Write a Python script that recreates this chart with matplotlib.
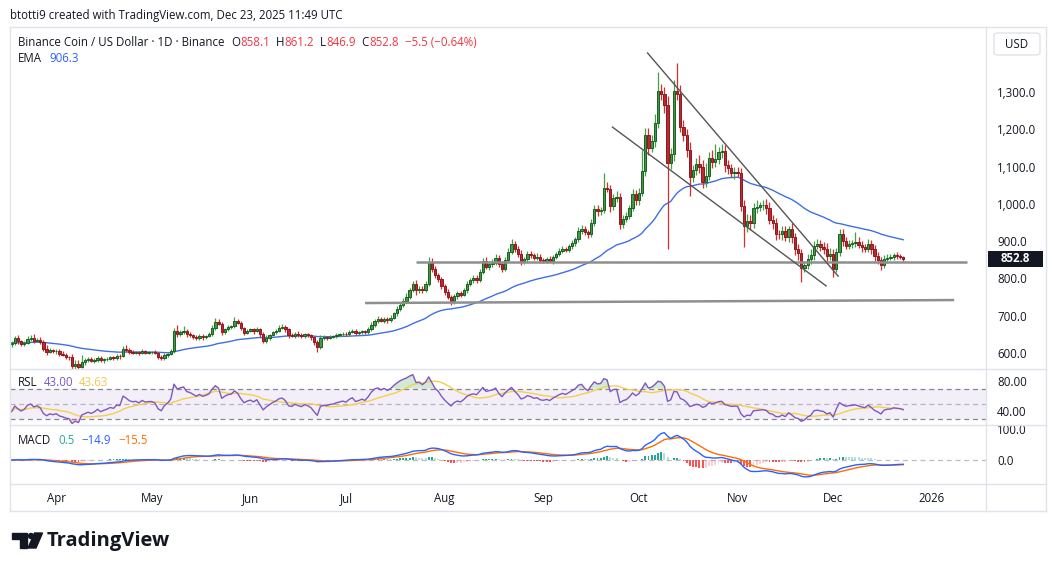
import numpy as np
import pandas as pd
import matplotlib
matplotlib.use("Agg")
import matplotlib.pyplot as plt
import matplotlib.dates as mdates
from matplotlib.patches import Polygon, Ellipse, Rectangle, FancyBboxPatch
from matplotlib.lines import Line2D

# BNB / USD daily closes, 18 Mar 2025 -> 23 Dec 2025
close_mar = [627, 640, 631, 624, 628, 638, 641, 633, 636, 630, 612, 603, 607, 604]
close_apr = [606, 598, 595, 590, 588, 566, 570, 563, 577, 580, 583, 579, 582, 587, 580,
             583, 585, 588, 586, 592, 591, 612, 608, 603, 601, 602, 599, 604, 601, 602]
close_may = [602, 600, 590, 586, 594, 598, 606, 660, 650, 655, 660, 650, 648, 644, 640, 646,
             642, 645, 650, 668, 684, 679, 655, 664, 670, 672, 686, 680, 666, 654, 660]
close_jun = [663, 658, 665, 650, 632, 641, 648, 655, 660, 668, 670, 663, 648, 646, 652,
             648, 645, 650, 647, 642, 630, 617, 639, 642, 641, 644, 645, 648, 650, 652]
close_jul = [650, 656, 660, 653, 655, 658, 656, 664, 676, 686, 690, 687, 692, 689, 695, 706,
             718, 730, 740, 750, 768, 785, 770, 773, 768, 786, 842, 826, 808, 798, 780]
close_aug = [764, 750, 736, 752, 760, 756, 768, 785, 795, 800, 797, 818, 846, 832, 838, 842,
             856, 838, 826, 850, 872, 893, 878, 865, 845, 852, 866, 862, 855, 858, 850]
close_sep = [848, 852, 848, 858, 866, 874, 880, 877, 886, 895, 905, 928, 934, 924, 918,
             950, 986, 980, 984, 1044, 1040, 995, 1015, 1018, 946, 960, 968, 990, 1026, 1010]
close_oct = [1030, 1088, 1185, 1150, 1168, 1218, 1302, 1296, 1265, 1110, 1135, 1303, 1296, 1207, 1186,
             1145, 1073, 1090, 1108, 1100, 1060, 1075, 1124, 1112, 1120, 1138, 1142, 1104, 1095, 1083, 1086]
close_nov = [1084, 995, 940, 955, 948, 990, 992, 996, 998, 990, 958, 948, 920, 918, 928,
             910, 932, 910, 878, 868, 828, 836, 852, 862, 888, 892, 885, 880, 860, 866]
close_dec = [826, 872, 918, 900, 888, 893, 895, 898, 890, 884, 880, 893, 878, 860, 850,
             835, 852, 856, 857, 862, 860, 858.1, 852.8]
first_open = 625.0

# wick lengths above the body top / below the body bottom
hi_mar = [6, 5, 8, 4, 5, 7, 6, 9, 5, 6, 5, 9, 6, 5]
lo_mar = [9, 5, 6, 4, 5, 4, 5, 6, 4, 5, 6, 8, 4, 5]
hi_apr = [5, 4, 6, 4, 3, 8, 12, 10, 18, 6, 5, 7, 4, 6, 5, 4, 3, 5, 4, 6, 4, 7, 10, 5, 4, 3, 4, 6, 3, 4]
lo_apr = [6, 5, 4, 5, 6, 10, 14, 6, 4, 8, 5, 4, 6, 5, 4, 6, 4, 3, 5, 4, 6, 3, 5, 6, 4, 5, 4, 3, 5, 4]
hi_may = [4, 6, 3, 4, 5, 4, 5, 8, 14, 6, 12, 5, 6, 4, 5, 4, 6, 4, 5, 8, 10, 6, 5, 4, 5, 4, 10, 6, 5, 4, 5]
lo_may = [5, 4, 6, 5, 4, 5, 3, 6, 8, 5, 4, 6, 5, 6, 4, 5, 6, 4, 3, 5, 6, 4, 8, 5, 4, 6, 4, 3, 5, 6, 4]
hi_jun = [5, 4, 6, 3, 5, 8, 4, 5, 4, 6, 7, 5, 4, 5, 3, 6, 5, 4, 3, 5, 4, 6, 8, 5, 4, 3, 4, 5, 4, 3]
lo_jun = [4, 6, 3, 8, 6, 4, 5, 3, 4, 5, 4, 6, 8, 4, 5, 6, 4, 5, 4, 6, 8, 14, 6, 4, 5, 3, 4, 5, 3, 4]
hi_jul = [4, 5, 3, 4, 5, 4, 3, 5, 6, 5, 8, 6, 5, 4, 6, 5, 7, 6, 8, 10, 6, 8, 12, 7, 6, 8, 16, 14, 8, 6, 5]
lo_jul = [5, 4, 3, 5, 4, 3, 4, 5, 4, 6, 5, 4, 6, 8, 5, 4, 6, 5, 7, 6, 5, 4, 14, 10, 8, 5, 6, 8, 6, 7, 8]
hi_aug = [6, 8, 5, 6, 7, 5, 6, 8, 6, 10, 8, 7, 9, 12, 8, 10, 9, 7, 6, 8, 10, 12, 8, 9, 10, 6, 8, 7, 6, 9, 7]
lo_aug = [8, 6, 6, 5, 8, 6, 4, 6, 5, 7, 8, 6, 5, 8, 9, 7, 6, 8, 10, 7, 5, 6, 8, 7, 9, 6, 7, 8, 6, 5, 8]
hi_sep = [6, 5, 7, 6, 5, 8, 6, 5, 7, 8, 6, 9, 10, 8, 7, 9, 12, 10, 8, 38, 14, 10, 12, 16, 12, 9, 10, 8, 14, 12]
lo_sep = [7, 6, 5, 8, 6, 5, 7, 6, 5, 7, 8, 6, 9, 8, 10, 7, 8, 12, 10, 9, 8, 16, 12, 10, 14, 10, 8, 9, 10, 12]
hi_oct = [14, 56, 20, 18, 16, 22, 52, 20, 18, 24, 16, 30, 74, 22, 18, 16, 20, 14, 16, 22, 18, 36, 16, 20,
          42, 14, 18, 16, 14, 12, 14]
lo_oct = [12, 10, 14, 18, 12, 16, 14, 18, 22, 230, 16, 20, 18, 14, 16, 20, 51, 14, 12, 16, 18, 14, 12, 16,
          14, 12, 16, 18, 14, 12, 16]
hi_nov = [14, 12, 16, 18, 14, 12, 18, 10, 12, 14, 16, 12, 14, 10, 12, 14, 10, 16, 12, 14, 10, 12, 14, 16,
          12, 14, 10, 12, 14, 16]
lo_nov = [12, 14, 55, 16, 18, 12, 14, 10, 12, 16, 12, 14, 16, 12, 14, 10, 12, 14, 16, 18, 37, 12, 10, 14,
          12, 10, 12, 14, 12, 10]
hi_dec = [12, 10, 14, 16, 12, 10, 8, 27, 12, 10, 8, 14, 10, 12, 10, 8, 12, 10, 8, 6, 10, 6, 3.1]
lo_dec = [21, 10, 12, 14, 10, 8, 12, 10, 9, 12, 10, 8, 12, 14, 10, 13, 8, 10, 6, 8, 7, 6, 5.9]

# drawings on the chart: (start, end, price at start, price at end)
levels = [('2025-07-23', '2026-01-12', 845, 845),
          ('2025-07-07', '2026-01-08', 734, 742)]
channel = [('2025-10-03 17:00', '2025-12-02 14:00', 1405, 806),
           ('2025-09-22 17:00', '2025-11-28 19:00', 1206, 780)]

month_ticks = ['2025-04-01', '2025-05-01', '2025-06-01', '2025-07-01', '2025-08-01',
               '2025-09-01', '2025-10-01', '2025-11-01', '2025-12-01', '2026-01-01']
month_labels = ['Apr', 'May', 'Jun', 'Jul', 'Aug', 'Sep', 'Oct', 'Nov', 'Dec', '2026']
price_ticks = [600, 700, 800, 900, 1000, 1100, 1200, 1300]

closes = close_mar + close_apr + close_may + close_jun + close_jul + close_aug + close_sep + close_oct + close_nov + close_dec
wick_hi = hi_mar + hi_apr + hi_may + hi_jun + hi_jul + hi_aug + hi_sep + hi_oct + hi_nov + hi_dec
wick_lo = lo_mar + lo_apr + lo_may + lo_jun + lo_jul + lo_aug + lo_sep + lo_oct + lo_nov + lo_dec

dates = pd.date_range('2025-03-18', periods=len(closes), freq='D')
x = mdates.date2num(dates)
c = np.array(closes, dtype=float)
o = np.array([first_open] + closes[:-1], dtype=float)
top = np.maximum(o, c)
bot = np.minimum(o, c)
hi = top + np.array(wick_hi)
lo = bot - np.array(wick_lo)
up = c >= o

s = pd.Series(c)
ema = s.ewm(span=50, adjust=False).mean()

# RSI 14 (Wilder) and its 14 SMA
d = np.diff(c, prepend=c[0])
g = np.maximum(d, 0)
l = np.maximum(-d, 0)
ag = g[1:15].mean()
al = l[1:15].mean()
rsi = np.empty(len(c))
for k in range(len(c)):
    if k > 0:
        ag = (ag * 13 + g[k]) / 14
        al = (al * 13 + l[k]) / 14
    rsi[k] = 100 - 100 / (1 + ag / al)
rsi_ma = pd.Series(rsi).rolling(14, min_periods=1).mean().values

# MACD 12 26 9
macd = (s.ewm(span=12, adjust=False).mean() - s.ewm(span=26, adjust=False).mean()).values
signal = pd.Series(macd).ewm(span=9, adjust=False).mean().values
hist = macd - signal

DARK = '#131722'
RED = '#F23645'
BORDER = '#E0E3EB'
W, H = 1057, 571

plt.rcParams['font.family'] = ['Open Sans', 'DejaVu Sans']

fig = plt.figure(figsize=(W / 100, H / 100), dpi=100)
fig.patch.set_facecolor('white')


def add_ax(x0, y0, x1, y1):
    return fig.add_axes([x0 / W, 1 - y1 / H, (x1 - x0) / W, (y1 - y0) / H])


ax_p = add_ax(10, 28, 986, 369)
ax_r = add_ax(10, 369, 986, 425)
ax_m = add_ax(10, 425, 986, 484)

xmin = x[0] - 0.5
xmax = x[0] + 306
for ax in (ax_p, ax_r, ax_m):
    ax.set_xlim(xmin, xmax)
    ax.set_facecolor('none')
    for sp in ax.spines.values():
        sp.set_visible(False)
    ax.yaxis.tick_right()
    ax.tick_params(axis='y', length=0, pad=8, labelsize=8.3, labelcolor=DARK)
    ax.tick_params(axis='x', length=0)

# ---- price pane
ax_p.set_ylim(557, 1472)
ax_p.plot(x, ema, color='#3D6FE8', lw=1.0, zorder=1)

gw, rw = '#43A047', '#D32F2F'
ax_p.vlines(x[up], lo[up], hi[up], color=gw, lw=0.9, zorder=2)
ax_p.vlines(x[~up], lo[~up], hi[~up], color=rw, lw=0.9, zorder=2)
ax_p.bar(x[up], (c - o)[up], bottom=o[up], width=0.72, color='#3E9A45',
         edgecolor='#1E5E22', linewidth=0.7, zorder=3)
ax_p.bar(x[~up], (c - o)[~up], bottom=o[~up], width=0.72, color='#C0262F',
         edgecolor='#8C1A20', linewidth=0.7, zorder=3)

for a, b, pa, pb in levels:
    ax_p.plot(mdates.date2num(pd.to_datetime([a, b])), [pa, pb], color='#8F8F8F', lw=1.8,
              zorder=4, solid_capstyle='butt')
for a, b, pa, pb in channel:
    ax_p.plot(mdates.date2num(pd.to_datetime([a, b])), [pa, pb], color='#555555', lw=1.0, zorder=4)

ax_p.set_yticks(price_ticks)
ax_p.set_yticklabels([f'{v:,.1f}' for v in price_ticks])
ax_p.set_xticks([])

# ---- RSI pane
ax_r.set_ylim(21.5, 96.2)
ax_r.axhspan(30, 70, color='#7E57C2', alpha=0.09, lw=0)
for lvl, al_ in ((70, 0.9), (50, 0.5), (30, 0.9)):
    ax_r.axhline(lvl, color='#787B86', lw=0.9, ls=(0, (4, 3)), alpha=al_)
ax_r.fill_between(x, 70, rsi, where=rsi > 70, interpolate=True, color='#4CAF50', alpha=0.25, lw=0)
ax_r.fill_between(x, 30, rsi, where=rsi < 30, interpolate=True, color='#F23645', alpha=0.2, lw=0)
ax_r.plot(x, rsi_ma, color='#F5CF4B', lw=1.0)
ax_r.plot(x, rsi, color='#7E57C2', lw=1.0)
ax_r.set_yticks([40, 80])
ax_r.set_yticklabels(['40.00', '80.00'])
ax_r.set_xticks([])

# ---- MACD pane
ax_m.set_ylim(-77, 113)
ax_m.axhline(0, color='#787B86', lw=0.9, ls=(0, (4, 3)), alpha=0.5)
prev = np.concatenate([[hist[0]], hist[:-1]])
hcol = np.where(hist >= 0, np.where(hist >= prev, '#26A69A', '#B2DFDB'),
                np.where(hist < prev, '#FF5252', '#FFCDD2'))
ax_m.bar(x, hist, width=0.6, color=hcol, lw=0)
ax_m.plot(x, signal, color='#FF6D00', lw=1.0)
ax_m.plot(x, macd, color='#2962FF', lw=1.0)
ax_m.set_yticks([0, 100])
ax_m.set_yticklabels(['0.0', '100.0'])
ax_m.set_xticks(mdates.date2num(pd.to_datetime(month_ticks)))
ax_m.set_xticklabels(month_labels)
ax_m.tick_params(axis='x', pad=5.5, labelsize=8.3, labelcolor=DARK)

# ---- frame lines
def fline(x0, y0, x1, y1, col=BORDER, lw=1.0):
    fig.add_artist(Line2D([x0 / W, x1 / W], [1 - y0 / H, 1 - y1 / H], color=col, lw=lw))


fline(10, 27, 1046, 27)
fline(10, 511, 1046, 511)
fline(10, 27, 10, 511)
fline(1046, 27, 1046, 511)
fline(986, 27, 986, 511)
fline(10, 369, 1046, 369)
fline(10, 425, 1046, 425)
fline(10, 484, 1046, 484)

# last price tag
fig.canvas.draw()
ytag = ax_p.transData.transform((x[-1], c[-1]))[1]
fig.add_artist(Rectangle((988 / W, (ytag - 8) / H), 55 / W, 16 / H, facecolor=DARK,
                         edgecolor='none', transform=fig.transFigure))
fig.text(1015 / W, ytag / H, '852.8', color='white', fontsize=8.3, fontweight='bold',
         ha='center', va='center')

# USD box
fig.add_artist(FancyBboxPatch((994 / W, 1 - 55 / H), 46 / W, 22 / H,
                              boxstyle='round,pad=0,rounding_size=0.004',
                              facecolor='white', edgecolor=BORDER, lw=1.0, transform=fig.transFigure))
fig.text(1017 / W, 1 - 44 / H, 'USD', color=DARK, fontsize=8.3, ha='center', va='center')


# ---- texts
def seg_text(xp, yp, parts, size=8.6):
    r = fig.canvas.get_renderer()
    for txt, col, gap in parts:
        t = fig.text(xp / W, 1 - yp / H, txt, color=col, fontsize=size, ha='left', va='center')
        xp += t.get_window_extent(renderer=r).width + gap


seg_text(10, 15, [('btotti9 created with TradingView.com, Dec 23, 2025 11:49 UTC', DARK, 0)], size=8.3)
seg_text(18, 42, [('Binance Coin / US Dollar · 1D · Binance', DARK, 7),
                  ('O', DARK, 0), ('858.1', RED, 6), ('H', DARK, 0), ('861.2', RED, 6),
                  ('L', DARK, 0), ('846.9', RED, 6), ('C', DARK, 0), ('852.8', RED, 6),
                  ('−5.5 (−0.64%)', RED, 0)], size=8.3)
seg_text(18, 58, [('EMA', DARK, 7), ('906.3', '#2962FF', 0)], size=8.3)
seg_text(18, 382, [('RSL', DARK, 6), ('43.00', '#7E57C2', 6), ('43.63', '#F2C94C', 0)], size=8.3)
seg_text(18, 440, [('MACD', DARK, 7), ('0.5', '#22AB94', 7), ('−14.9', '#2962FF', 7),
                   ('−15.5', '#FF6D00', 0)], size=8.3)

# ---- TradingView logo
def fpoly(pts, **kw):
    fig.add_artist(Polygon([(px / W, 1 - py / H) for px, py in pts], closed=True,
                           transform=fig.transFigure, **kw))


fpoly([(12, 533), (27, 533), (27, 548), (20, 548), (20, 538.5), (12, 538.5)], color='#131722')
fig.add_artist(Ellipse((31 / W, 1 - 536 / H), 5 / W, 5 / H, color='#131722', transform=fig.transFigure))
fpoly([(34.5, 533), (42.5, 533), (36, 548), (28, 548)], color='#131722')
fig.text(47 / W, 1 - 541 / H, 'TradingView', color='#131722', fontsize=14.5, fontweight='bold',
         ha='left', va='center')

fig.savefig('out.png', dpi=100, facecolor='white')
